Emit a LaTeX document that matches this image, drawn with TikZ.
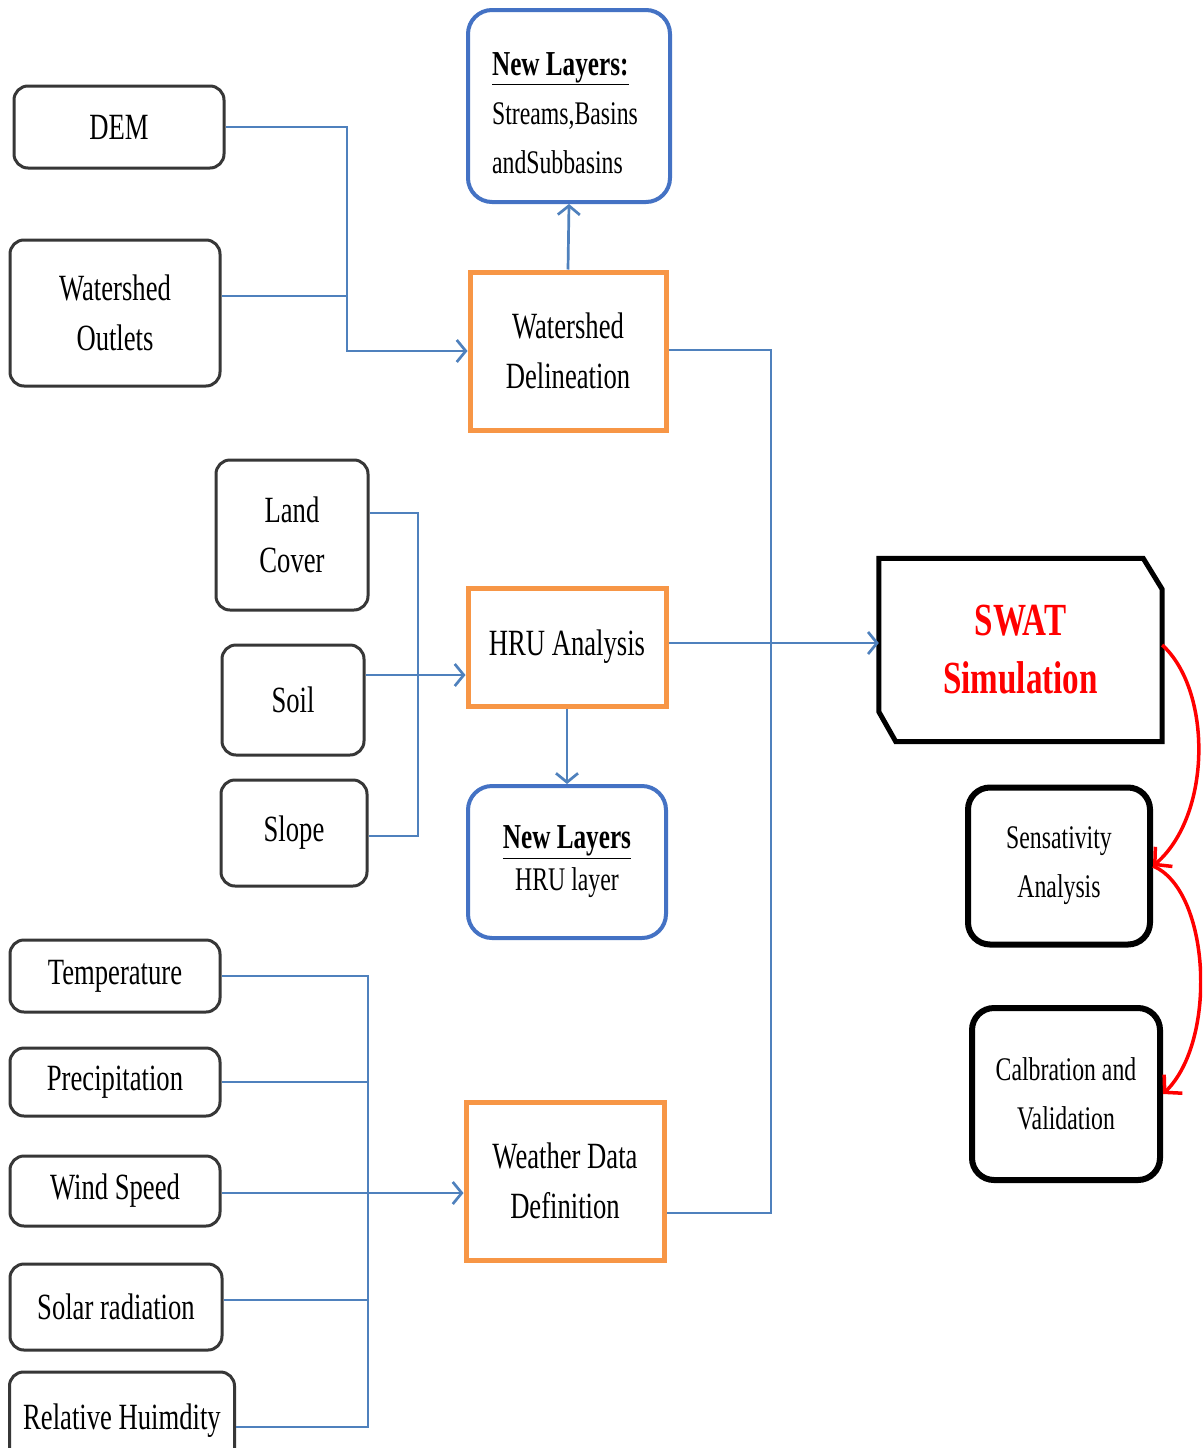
\documentclass[tikz,border=0pt]{standalone}
\usepackage{fontspec}
\setmainfont{Liberation Serif}[FakeStretch=0.72]
\usetikzlibrary{arrows.meta,calc}
\definecolor{cblue}{RGB}{79,129,189}
\definecolor{bblue}{RGB}{68,114,196}
\definecolor{corange}{RGB}{247,150,70}
\definecolor{cgray}{RGB}{55,55,55}
\newcommand{\txtA}{\fontsize{37}{50}\selectfont}
\newcommand{\txtB}{\fontsize{33}{49}\selectfont}
\newcommand{\txtC}{\fontsize{33}{42}\selectfont}
\tikzset{
  gbox/.style={draw=cgray, line width=3pt, rounded corners=14pt, fill=white, align=center, inner sep=0pt, font=\txtA},
  obox/.style={draw=corange, line width=5pt, fill=white, align=center, inner sep=0pt, font=\txtA},
  bbox/.style={draw=bblue, line width=4pt, rounded corners=24pt, fill=white, inner sep=0pt},
  kbox/.style={draw=black, line width=6pt, rounded corners=22pt, fill=white, align=center, inner sep=0pt, font=\txtB},
  conn/.style={draw=cblue, line width=2.7pt},
  arr/.style={conn, -{Straight Barb[length=9pt,width=22pt]}},
  redarr/.style={draw=red, line width=3.5pt, -{Straight Barb[length=12pt,width=26pt]}},
}
\begin{document}
\begin{tikzpicture}[x=1pt,y=-1pt]
\useasboundingbox (0,0) rectangle (1202,1448);
\clip (0,0) rectangle (1202,1448);
\fill[white] (0,0) rectangle (1202,1448);

% left inputs
\node[gbox, minimum width=210, minimum height=82] (dem) at (119,127) {DEM};
\node[gbox, minimum width=210, minimum height=146] (outlets) at (115,313) {Watershed\\Outlets};
\node[gbox, minimum width=152, minimum height=150] (land) at (292,535) {Land\\Cover};
\node[gbox, minimum width=142, minimum height=110] (soil) at (293,700) {Soil};
\node[gbox, minimum width=146, minimum height=106] (slope) at (294,833) {Slope};
\node[gbox, minimum width=210, minimum height=72] (temp) at (115,976) {Temperature};
\node[gbox, minimum width=210, minimum height=68] (prec) at (115,1082) {Precipitation};
\node[gbox, minimum width=210, minimum height=70] (wind) at (115,1191) {Wind Speed};
\node[gbox, minimum width=212, minimum height=86] (solar) at (116,1307) {Solar radiation};
\node[gbox, minimum width=225, minimum height=98] (rh) at (122,1421) {Relative Huimdity};

% middle column
\node[bbox, minimum width=202, minimum height=192] (nl1) at (569,106) {};
\node[align=left, font=\txtB, inner sep=0pt] (nl1t) at (565,113)
  {{\fontsize{35}{49}\selectfont\bfseries\underline{New Layers:}}\\Streams,Basins\\andSubbasins};
\node[obox, minimum width=196, minimum height=158] (wd) at (568,351) {Watershed\\Delineation};
\node[obox, minimum width=198, minimum height=118] (hru) at (567,647) {HRU Analysis};
\node[bbox, minimum width=198, minimum height=152, align=center, font=\txtC] (nl2) at (567,862)
  {{\fontsize{35}{42}\selectfont\bfseries\underline{New Layers}}\\HRU layer};
\node[obox, minimum width=198, minimum height=158] (wdd) at (565,1181) {Weather Data\\Definition};

% right column
\node[minimum width=283, minimum height=183, inner sep=0pt, align=center,
      text=red, font=\fontsize{46}{58}\selectfont\bfseries] (swat) at (1020.5,650) {SWAT\\Simulation};
\draw[black, line width=5pt, line join=miter]
  (swat.north west) -- ([xshift=-19pt]swat.north east) -- ([yshift=-31pt]swat.north east)
  -- (swat.south east) -- ([xshift=17pt]swat.south west) -- ([yshift=30pt]swat.south west) -- cycle;
\node[kbox, minimum width=182, minimum height=157] (sens) at (1059,866) {Sensativity\\Analysis};
\node[kbox, minimum width=188, minimum height=172] (cal) at (1066,1094) {Calbration and\\Validation};

% junction columns
\coordinate (jx) at (347,0);
\coordinate (jl) at (418,0);
\coordinate (jv) at (771,0);
\coordinate (jw) at (368,0);

% DEM / outlets -> watershed delineation
\draw[arr] (dem.east) -- (dem.east -| jx) |- (wd.west);
\draw[conn] ([yshift=17pt]outlets.east) -- ([yshift=17pt]outlets.east -| jx);
\draw[arr] (wd.north) -- (nl1.south);

% land cover / soil / slope -> HRU
\draw[conn] ([yshift=22pt]land.east) -- ([yshift=22pt]land.east -| jl) -- ([yshift=-3pt]slope.east -| jl) -- ([yshift=-3pt]slope.east);
\draw[arr] ([yshift=25pt]soil.east) -- ([yshift=25pt]soil.east -| hru.west);
\draw[arr] (hru.south) -- (nl2.north);

% to SWAT
\draw[conn] ([yshift=1pt]wd.east) -- ([yshift=1pt]wd.east -| jv) -- ([yshift=-32pt]wdd.east -| jv) -- ([yshift=-32pt]wdd.east);
\draw[arr] ([yshift=4pt]hru.east) -- ([yshift=4pt]hru.east -| swat.west);

% weather inputs
\draw[conn] (temp.east) -- (temp.east -| jw) -- ([yshift=-6pt]rh.east -| jw) -- ([yshift=-6pt]rh.east);
\draw[conn] (prec.east) -- (prec.east -| jw);
\draw[arr] ([yshift=-2pt]wind.east) -- ([yshift=-12pt]wdd.west);
\draw[conn] ([yshift=7pt]solar.east) -- ([yshift=7pt]solar.east -| jw);

% red feedback arrows
\draw[redarr] ([yshift=5pt]swat.east) .. controls (1212,690) and (1212,815) .. (sens.east);
\draw[redarr] (sens.east) .. controls (1210,890) and (1218,1040) .. (cal.east);
\end{tikzpicture}
\end{document}
